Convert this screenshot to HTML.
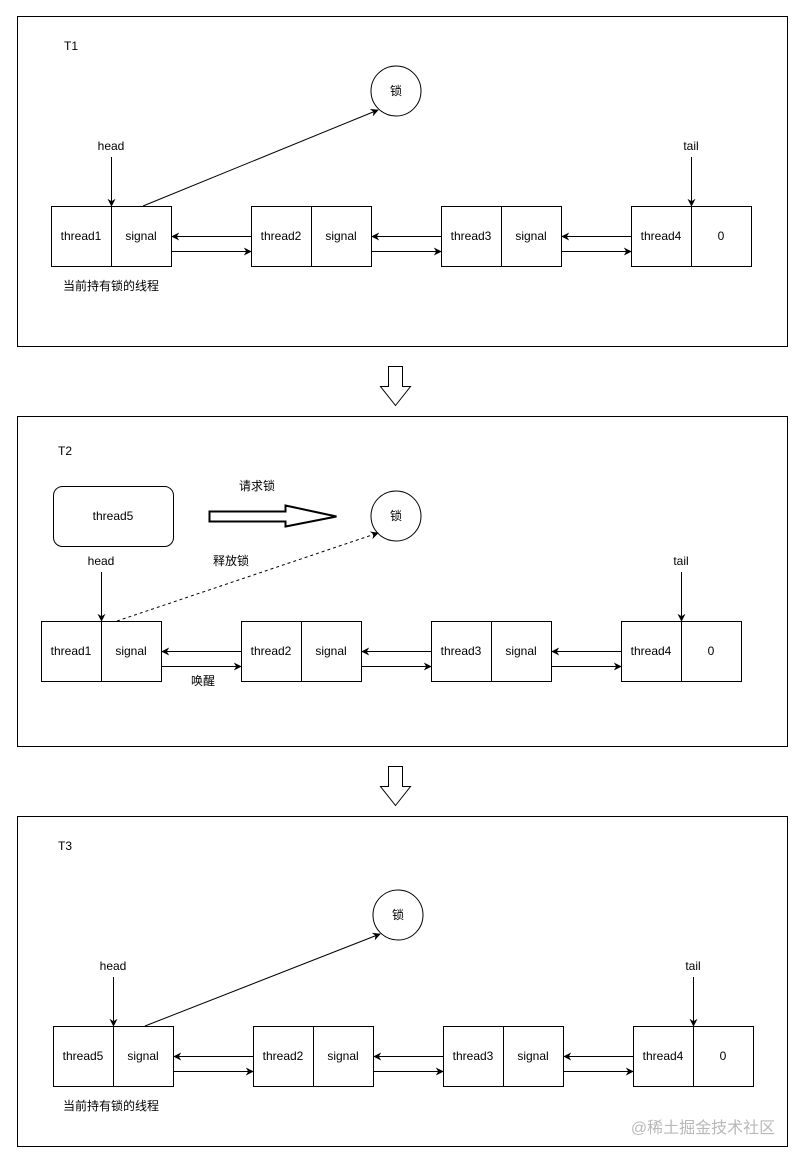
<!DOCTYPE html>
<html><head><meta charset="utf-8"><style>
html,body{margin:0;padding:0;background:#fff}
svg{display:block}
text{font-family:"Liberation Sans","Noto Sans CJK SC",sans-serif;font-size:12px;fill:#000}
</style></head><body>
<svg width="804" height="1163" viewBox="0 0 804 1163" xmlns="http://www.w3.org/2000/svg">
<defs>
<marker id="a" viewBox="0 0 10 10" refX="9" refY="5" markerWidth="8" markerHeight="8" orient="auto" markerUnits="userSpaceOnUse">
<path d="M0,0 L10,5 L0,10 L3,5 Z" fill="#000"/></marker>
</defs>
<g fill="none" stroke="#000" stroke-width="1">
<!-- panels -->
<rect x="17.5" y="16.5" width="770" height="330"/>
<rect x="17.5" y="416.5" width="770" height="330"/>
<rect x="17.5" y="816.5" width="770" height="330"/>
<!-- down arrows -->
<path d="M388.5,366.5 H402.5 V386.5 H410.5 L395.5,405.5 L380.5,386.5 H388.5 Z"/>
<path d="M388.5,766.5 H402.5 V786.5 H410.5 L395.5,805.5 L380.5,786.5 H388.5 Z"/>

<!-- Panel 1 -->
<circle cx="396" cy="91" r="25"/>
<rect x="51.5" y="206.5" width="120" height="60"/><line x1="111.5" y1="206" x2="111.5" y2="267"/>
<rect x="251.5" y="206.5" width="120" height="60"/><line x1="311.5" y1="206" x2="311.5" y2="267"/>
<rect x="441.5" y="206.5" width="120" height="60"/><line x1="501.5" y1="206" x2="501.5" y2="267"/>
<rect x="631.5" y="206.5" width="120" height="60"/><line x1="691.5" y1="206" x2="691.5" y2="267"/>
<line x1="111.5" y1="157" x2="111.5" y2="206" marker-end="url(#a)"/>
<line x1="691.5" y1="157" x2="691.5" y2="206" marker-end="url(#a)"/>
<line x1="143" y1="206" x2="378" y2="110" marker-end="url(#a)"/>
<line x1="251" y1="236.5" x2="172" y2="236.5" marker-end="url(#a)"/>
<line x1="172" y1="251.5" x2="251" y2="251.5" marker-end="url(#a)"/>
<line x1="441" y1="236.5" x2="372" y2="236.5" marker-end="url(#a)"/>
<line x1="372" y1="251.5" x2="441" y2="251.5" marker-end="url(#a)"/>
<line x1="631" y1="236.5" x2="562" y2="236.5" marker-end="url(#a)"/>
<line x1="562" y1="251.5" x2="631" y2="251.5" marker-end="url(#a)"/>

<!-- Panel 2 -->
<rect x="53.5" y="486.5" width="120" height="60" rx="9"/>
<path d="M209.5,511.5 H285.5 V505.5 L336.5,516.5 L285.5,526.5 V521.5 H209.5 Z" stroke-width="2"/>
<circle cx="396" cy="516" r="25"/>
<rect x="41.5" y="621.5" width="120" height="60"/><line x1="101.5" y1="621" x2="101.5" y2="682"/>
<rect x="241.5" y="621.5" width="120" height="60"/><line x1="301.5" y1="621" x2="301.5" y2="682"/>
<rect x="431.5" y="621.5" width="120" height="60"/><line x1="491.5" y1="621" x2="491.5" y2="682"/>
<rect x="621.5" y="621.5" width="120" height="60"/><line x1="681.5" y1="621" x2="681.5" y2="682"/>
<line x1="101.5" y1="572" x2="101.5" y2="621" marker-end="url(#a)"/>
<line x1="681.5" y1="572" x2="681.5" y2="621" marker-end="url(#a)"/>
<line x1="117" y1="621" x2="378" y2="533" stroke-dasharray="3,3" marker-end="url(#a)"/>
<line x1="241" y1="651.5" x2="162" y2="651.5" marker-end="url(#a)"/>
<line x1="162" y1="666.5" x2="241" y2="666.5" marker-end="url(#a)"/>
<line x1="431" y1="651.5" x2="362" y2="651.5" marker-end="url(#a)"/>
<line x1="362" y1="666.5" x2="431" y2="666.5" marker-end="url(#a)"/>
<line x1="621" y1="651.5" x2="552" y2="651.5" marker-end="url(#a)"/>
<line x1="552" y1="666.5" x2="621" y2="666.5" marker-end="url(#a)"/>

<!-- Panel 3 -->
<circle cx="398" cy="915" r="25"/>
<rect x="53.5" y="1026.5" width="120" height="60"/><line x1="113.5" y1="1026" x2="113.5" y2="1087"/>
<rect x="253.5" y="1026.5" width="120" height="60"/><line x1="313.5" y1="1026" x2="313.5" y2="1087"/>
<rect x="443.5" y="1026.5" width="120" height="60"/><line x1="503.5" y1="1026" x2="503.5" y2="1087"/>
<rect x="633.5" y="1026.5" width="120" height="60"/><line x1="693.5" y1="1026" x2="693.5" y2="1087"/>
<line x1="113.5" y1="977" x2="113.5" y2="1026" marker-end="url(#a)"/>
<line x1="693.5" y1="977" x2="693.5" y2="1026" marker-end="url(#a)"/>
<line x1="145" y1="1026" x2="380" y2="934" marker-end="url(#a)"/>
<line x1="253" y1="1056.5" x2="174" y2="1056.5" marker-end="url(#a)"/>
<line x1="174" y1="1071.5" x2="253" y2="1071.5" marker-end="url(#a)"/>
<line x1="443" y1="1056.5" x2="374" y2="1056.5" marker-end="url(#a)"/>
<line x1="374" y1="1071.5" x2="443" y2="1071.5" marker-end="url(#a)"/>
<line x1="633" y1="1056.5" x2="564" y2="1056.5" marker-end="url(#a)"/>
<line x1="564" y1="1071.5" x2="633" y2="1071.5" marker-end="url(#a)"/>
</g>

<g text-anchor="middle">
<!-- Panel 1 text -->
<text x="64" y="50" text-anchor="start">T1</text>
<text x="396" y="95">锁</text>
<text x="111" y="150">head</text>
<text x="691" y="150">tail</text>
<text x="81" y="240">thread1</text><text x="141" y="240">signal</text>
<text x="281" y="240">thread2</text><text x="341" y="240">signal</text>
<text x="471" y="240">thread3</text><text x="531" y="240">signal</text>
<text x="661" y="240">thread4</text><text x="721" y="240">0</text>
<text x="111" y="290">当前持有锁的线程</text>

<!-- Panel 2 text -->
<text x="58" y="455" text-anchor="start">T2</text>
<text x="113" y="520">thread5</text>
<text x="257" y="490">请求锁</text>
<text x="396" y="520">锁</text>
<text x="101" y="565">head</text>
<text x="681" y="565">tail</text>
<text x="231" y="565">释放锁</text>
<text x="71" y="655">thread1</text><text x="131" y="655">signal</text>
<text x="271" y="655">thread2</text><text x="331" y="655">signal</text>
<text x="461" y="655">thread3</text><text x="521" y="655">signal</text>
<text x="651" y="655">thread4</text><text x="711" y="655">0</text>
<text x="203" y="685">唤醒</text>

<!-- Panel 3 text -->
<text x="58" y="850" text-anchor="start">T3</text>
<text x="398" y="919">锁</text>
<text x="113" y="970">head</text>
<text x="693" y="970">tail</text>
<text x="83" y="1060">thread5</text><text x="143" y="1060">signal</text>
<text x="283" y="1060">thread2</text><text x="343" y="1060">signal</text>
<text x="473" y="1060">thread3</text><text x="533" y="1060">signal</text>
<text x="663" y="1060">thread4</text><text x="723" y="1060">0</text>
<text x="111" y="1110">当前持有锁的线程</text>
<text x="703" y="1133" style="font-size:16px;fill:#b8b8b8">@稀土掘金技术社区</text>
</g>
</svg>
</body></html>
